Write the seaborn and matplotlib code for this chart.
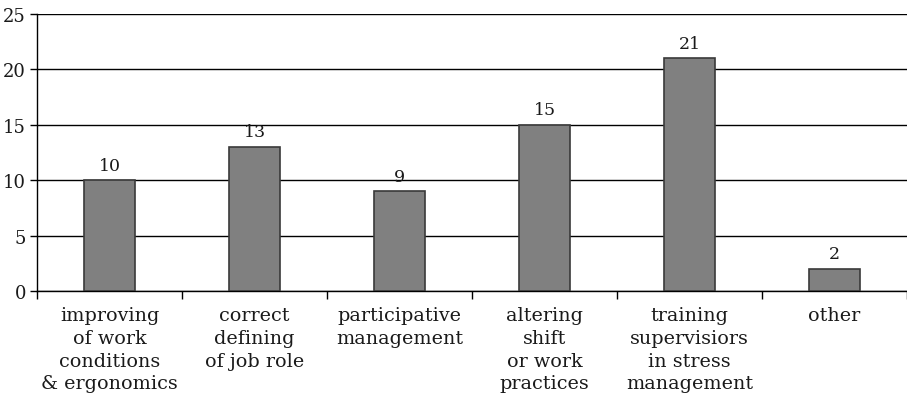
import matplotlib
matplotlib.use("Agg")
import matplotlib.pyplot as plt
import seaborn as sns
import pandas as pd
import numpy as np
from matplotlib.ticker import FixedLocator

categories = [
    "improving\nof work\nconditions\n& ergonomics",
    "correct\ndefining\nof job role",
    "participative\nmanagement",
    "altering\nshift\nor work\npractices",
    "training\nsupervisiors\nin stress\nmanagement",
    "other",
]
counts = [10, 13, 9, 15, 21, 2]
y_ticks = [0, 5, 10, 15, 20, 25]

sns.set_theme(style="white")
plt.rcParams["font.family"] = ["DejaVu Serif"]
plt.rcParams["text.color"] = "#1a1a1a"
plt.rcParams["xtick.color"] = "#1a1a1a"
plt.rcParams["ytick.color"] = "#1a1a1a"

df = pd.DataFrame({"measure": categories, "count": counts})

fig = plt.figure(figsize=(9.07, 4.06), dpi=100)
ax = fig.add_axes([37 / 907, 1 - 292 / 406, 870 / 907, (292 - 15) / 406])

sns.barplot(data=df, x="measure", y="count", ax=ax, color="#808080",
            width=0.345, edgecolor="#3a3a3a", linewidth=1.2, saturation=1,
            zorder=3)

ax.set_ylim(0, 25)
ax.set_xlim(-0.5, len(categories) - 0.5)
ax.set_yticks(y_ticks)
ax.set_yticklabels([str(t) for t in y_ticks], fontsize=13)
ax.yaxis.grid(True, color="black", linewidth=1.0, zorder=0)
ax.set_axisbelow(True)

ax.set_xticks(range(len(categories)))
ax.set_xticklabels(categories, fontsize=13.8, linespacing=1.33)
ax.tick_params(axis="x", which="major", length=0, pad=11)
ax.xaxis.set_minor_locator(FixedLocator(np.arange(-0.5, len(categories), 1.0)))
ax.tick_params(axis="x", which="minor", length=6, width=1, color="black",
               direction="out", bottom=True)
ax.tick_params(axis="y", length=5, width=1, color="black", direction="out",
               left=True, pad=3)

for i, v in enumerate(counts):
    ax.text(i, v + 0.6, str(v), ha="center", va="bottom", fontsize=12.5)

ax.set_xlabel("")
ax.set_ylabel("")
for side in ["top", "right"]:
    ax.spines[side].set_visible(False)
for side in ["left", "bottom"]:
    ax.spines[side].set_color("black")
    ax.spines[side].set_linewidth(1.0)

fig.savefig("out.png", dpi=100)
